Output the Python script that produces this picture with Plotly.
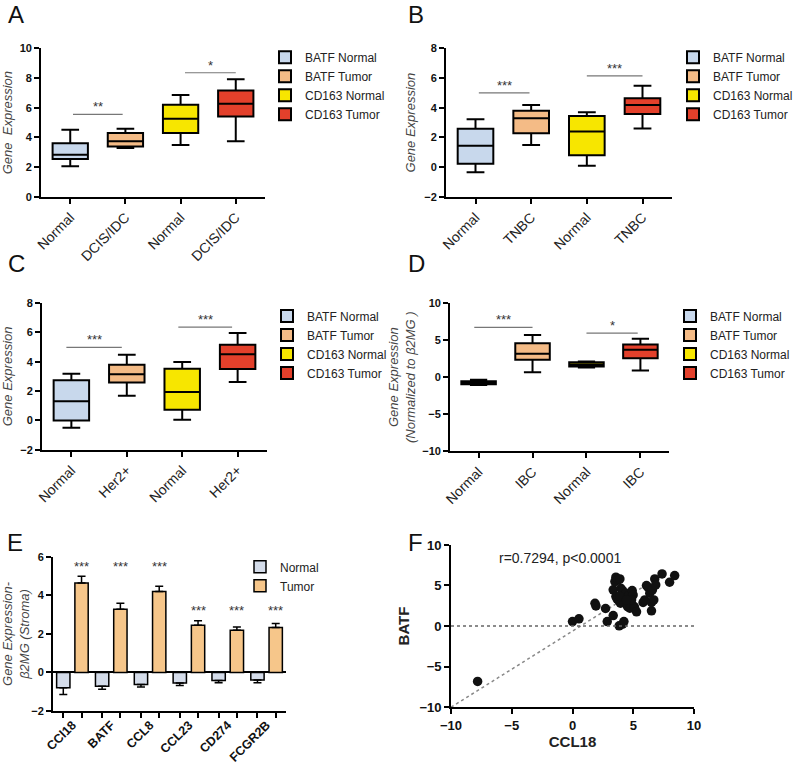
import plotly.graph_objects as go

FONT = "Liberation Sans, Arial, sans-serif"

box_names = ["BATF Normal", "BATF Tumor", "CD163 Normal", "CD163 Tumor"]
box_colors = ["#c8d8ec", "#f4bb86", "#f7e600", "#e3402b"]

# panel A - DCIS/IDC
a_labels = ["Normal", "DCIS/IDC", "Normal", "DCIS/IDC"]
a_lo = [2.07, 3.29, 3.49, 3.74]
a_q1 = [2.55, 3.40, 4.30, 5.41]
a_med = [2.84, 3.74, 5.26, 6.26]
a_q3 = [3.62, 4.30, 6.20, 7.16]
a_hi = [4.52, 4.59, 6.85, 7.92]
a_sig = [("**", 0.05, 0.95, 5.55), ("*", 2.08, 3.0, 8.35)]

# panel B - TNBC
b_labels = ["Normal", "TNBC", "Normal", "TNBC"]
b_lo = [-0.34, 1.50, 0.10, 2.60]
b_q1 = [0.24, 2.28, 0.80, 3.57]
b_med = [1.44, 3.29, 2.41, 4.19]
b_q3 = [2.58, 3.80, 3.44, 4.64]
b_hi = [3.23, 4.19, 3.70, 5.47]
b_sig = [("***", 0.06, 0.97, 5.0), ("***", 2.0, 3.0, 6.14)]

# panel C - Her2+
c_labels = ["Normal", "Her2+", "Normal", "Her2+"]
c_lo = [-0.50, 1.68, 0.05, 2.61]
c_q1 = [0.0, 2.59, 0.73, 3.50]
c_med = [1.30, 3.14, 1.93, 4.50]
c_q3 = [2.73, 3.80, 3.52, 5.16]
c_hi = [3.18, 4.48, 3.98, 5.95]
c_sig = [("***", -0.09, 0.91, 4.98), ("***", 1.93, 2.9, 6.36)]

# panel D - IBC
d_labels = ["Normal", "IBC", "Normal", "IBC"]
d_lo = [-1.05, 0.65, 1.30, 0.88]
d_q1 = [-0.95, 2.33, 1.45, 2.55]
d_med = [-0.78, 3.14, 1.70, 3.68]
d_q3 = [-0.55, 4.58, 2.00, 4.40]
d_hi = [-0.35, 5.67, 2.10, 5.17]
d_sig = [("***", -0.08, 1.0, 6.7), ("*", 2.0, 2.95, 5.94)]

# panel E - stroma bars
e_genes = ["CCl18", "BATF", "CCL8", "CCL23", "CD274", "FCGR2B"]
e_normal = [-0.79, -0.72, -0.63, -0.55, -0.42, -0.39]
e_normal_err = [0.36, 0.15, 0.12, 0.13, 0.12, 0.14]
e_tumor = [4.65, 3.28, 4.21, 2.45, 2.19, 2.33]
e_tumor_err = [0.35, 0.31, 0.27, 0.23, 0.17, 0.21]
e_star_y = [5.0, 5.0, 5.0, 2.75, 2.75, 2.75]

# panel F - CCL18 vs BATF
f_ccl18 = [-7.81, 0.0, 0.53, 1.85, 1.93, 2.72, 2.86, 3.35, 3.35, 3.49, 3.57, 3.76,
           3.90, 3.57, 3.68, 3.84, 3.95, 3.84, 4.12, 4.23, 3.98, 4.12, 4.39, 4.53,
           4.66, 4.53, 4.72, 4.91, 4.99, 5.08, 5.13, 5.27, 5.81, 5.95, 6.09, 6.22,
           6.36, 6.50, 6.50, 6.58, 6.69, 6.77, 6.85, 7.37, 7.99, 8.41, 4.86, 3.90, 4.44]
f_batf = [-6.84, 0.55, 0.88, 2.81, 2.48, 2.16, 0.55, 1.29, 4.46, 5.48, 6.02, 5.69,
          5.81, 3.64, 3.31, 3.10, 2.81, 0.02, 0.23, 0.55, 4.66, 4.37, 4.05, 3.64,
          3.31, 2.40, 2.20, 4.37, 3.84, 2.40, 2.16, 1.75, 2.90, 3.22, 4.99, 4.78,
          4.05, 1.87, 2.90, 4.46, 3.22, 5.81, 5.07, 6.43, 5.40, 6.22, 3.22, 3.64, 3.22]
f_fit_slope = 0.94
f_fit_intercept = -0.63
f_fit_x = [-10, 6]

fig = go.Figure()

axis_common = dict(showgrid=False, zeroline=False, showline=True, linecolor="black",
                   linewidth=1.8, ticks="outside", tickcolor="black", tickwidth=1.8,
                   ticklen=5, automargin=False)
ytitle_font = dict(size=13, color="#444")
ytick_font = dict(size=11, color="#111", weight="bold")

fig.update_layout(
    width=800, height=765, margin=dict(l=0, r=0, t=0, b=0),
    paper_bgcolor="white", plot_bgcolor="white",
    font=dict(family=FONT, color="#222"),
    barmode="group", bargap=0.06, bargroupgap=0.27,
    xaxis=dict(axis_common, domain=[41 / 800, 265 / 800], range=[-0.53, 3.53], anchor="y"),
    yaxis=dict(axis_common, domain=[0.7425, 0.937], range=[0, 10], dtick=2, anchor="x",
               tickfont=ytick_font,
               title=dict(text="<i>Gene  Expression</i>", font=ytitle_font, standoff=6)),
    xaxis2=dict(axis_common, domain=[446 / 800, 672 / 800], range=[-0.53, 3.53], anchor="y2"),
    yaxis2=dict(axis_common, domain=[0.7425, 0.937], range=[-2, 8], dtick=2, anchor="x2",
                tickfont=ytick_font,
                title=dict(text="<i>Gene Expression</i>", font=ytitle_font, standoff=6)),
    xaxis3=dict(axis_common, domain=[42 / 800, 267 / 800], range=[-0.53, 3.53], anchor="y3"),
    yaxis3=dict(axis_common, domain=[0.412, 0.604], range=[-2, 8], dtick=2, anchor="x3",
                tickfont=ytick_font,
                title=dict(text="<i>Gene Expression</i>", font=ytitle_font, standoff=6)),
    xaxis4=dict(axis_common, domain=[450 / 800, 669 / 800], range=[-0.53, 3.53], anchor="y4"),
    yaxis4=dict(axis_common, domain=[0.41, 0.604], range=[-10, 10], dtick=5, anchor="x4",
                tickfont=ytick_font,
                title=dict(text="<i>Gene Expression<br>(Normalized to β2MG )</i>",
                           font=ytitle_font, standoff=4)),
)


def box_panel(n, labels, lo, q1, med, q3, hi, sig):
    sfx = "" if n == 1 else str(n)
    for i in range(4):
        fig.add_trace(go.Box(
            x=[i], lowerfence=[lo[i]], q1=[q1[i]], median=[med[i]], q3=[q3[i]],
            upperfence=[hi[i]], name=box_names[i], fillcolor=box_colors[i],
            line=dict(color="black", width=2), width=0.64, whiskerwidth=0.5,
            xaxis="x" + sfx, yaxis="y" + sfx, legend="legend" + sfx,
            hoverinfo="skip"))
    for txt, x0, x1, y in sig:
        fig.add_shape(type="line", xref="x" + sfx, yref="y" + sfx, x0=x0, x1=x1,
                      y0=y, y1=y, line=dict(color="#777777", width=1.2))
        fig.add_annotation(xref="x" + sfx, yref="y" + sfx, x=(x0 + x1) / 2, y=y,
                           text=txt, showarrow=False, yanchor="bottom", yshift=-2,
                           font=dict(size=13, color="#333333"))
    fig.update_layout({"xaxis" + sfx: dict(tickmode="array", tickvals=list(range(4)),
                                           ticktext=labels, tickangle=-45,
                                           tickfont=dict(size=14, color="#222"))})


box_panel(1, a_labels, a_lo, a_q1, a_med, a_q3, a_hi, a_sig)
box_panel(2, b_labels, b_lo, b_q1, b_med, b_q3, b_hi, b_sig)
box_panel(3, c_labels, c_lo, c_q1, c_med, c_q3, c_hi, c_sig)
box_panel(4, d_labels, d_lo, d_q1, d_med, d_q3, d_hi, d_sig)

# E bars
e_x = list(range(len(e_genes)))
fig.add_trace(go.Bar(
    x=e_x, y=e_normal, name="Normal", marker=dict(color="#d4dcea", line=dict(color="black", width=1.5)),
    error_y=dict(type="data", symmetric=False, array=[0] * 6, arrayminus=e_normal_err,
                 color="black", thickness=1.5, width=4),
    xaxis="x5", yaxis="y5", legend="legend5", hoverinfo="skip"))
fig.add_trace(go.Bar(
    x=e_x, y=e_tumor, name="Tumor", marker=dict(color="#f6c68a", line=dict(color="black", width=1.5)),
    error_y=dict(type="data", symmetric=False, array=e_tumor_err, arrayminus=[0] * 6,
                 color="black", thickness=1.5, width=4),
    xaxis="x5", yaxis="y5", legend="legend5", hoverinfo="skip"))
for i, yv in enumerate(e_star_y):
    fig.add_annotation(xref="x5", yref="y5", x=i + 0.235, y=yv, text="***",
                       showarrow=False, yanchor="bottom", font=dict(size=13, color="#333"))

# F scatter
fig.add_trace(go.Scatter(
    x=f_fit_x, y=[f_fit_slope * v + f_fit_intercept for v in f_fit_x], mode="lines",
    line=dict(color="#888888", width=1.5, dash="dot"), xaxis="x6", yaxis="y6",
    showlegend=False, hoverinfo="skip"))
fig.add_trace(go.Scatter(
    x=f_ccl18, y=f_batf, mode="markers", marker=dict(color="#111111", size=9.5),
    xaxis="x6", yaxis="y6", showlegend=False))
fig.add_shape(type="line", xref="x6", yref="y6", x0=-10, x1=10, y0=0, y1=0,
              line=dict(color="#666666", width=1.5, dash="dot"))
fig.add_annotation(xref="paper", yref="paper", x=560 / 800, y=1 - 558 / 765,
                   xanchor="center", yanchor="middle",
                   text="r=0.7294, p<0.0001", showarrow=False,
                   font=dict(size=14, color="#222"))

fig.update_layout(
    xaxis5=dict(axis_common, domain=[53 / 800, 286 / 800], range=[-0.5, 5.5], anchor="y5",
                tickmode="array", tickvals=e_x, ticktext=e_genes, tickangle=-45, ticks="",
                tickfont=dict(size=12.5, color="#111", weight="bold"),
                minor=dict(tickmode="array",
                           tickvals=[i + d for i in e_x for d in (-0.235, 0.235)],
                           ticks="outside", ticklen=5, tickwidth=1.8, tickcolor="black")),
    yaxis5=dict(axis_common, domain=[0.0706, 0.272], range=[-2, 6], dtick=2, anchor="x5",
                zeroline=True, zerolinecolor="black", zerolinewidth=1.8, tickfont=ytick_font,
                title=dict(text="<i>Gene Expression-<br>β2MG (Stroma)</i>",
                           font=ytitle_font, standoff=6)),
    xaxis6=dict(axis_common, domain=[451 / 800, 694 / 800], range=[-10, 10], dtick=5,
                anchor="y6", tickfont=dict(size=13, color="#111", weight="bold"),
                title=dict(text="<b>CCL18</b>", font=dict(size=15, color="#222"), standoff=4)),
    yaxis6=dict(axis_common, domain=[0.0758, 0.2876], range=[-10, 10], dtick=5, anchor="x6",
                tickfont=dict(size=13, color="#111", weight="bold"),
                title=dict(text="<b>BATF</b>", font=dict(size=15, color="#222"), standoff=6)),
)

legend_common = dict(bgcolor="rgba(0,0,0,0)", font=dict(size=12, color="#222"),
                     xanchor="left", yanchor="top", tracegroupgap=0)
fig.update_layout(
    legend=dict(legend_common, x=265 / 800, y=0.944),
    legend2=dict(legend_common, x=673 / 800, y=0.944),
    legend3=dict(legend_common, x=267 / 800, y=0.606),
    legend4=dict(legend_common, x=670 / 800, y=0.606),
    legend5=dict(legend_common, x=240 / 800, y=0.278),
)

for letter, px, py in [("A", 16, 14), ("B", 416, 14), ("C", 16, 263),
                       ("D", 416, 263), ("E", 15, 542), ("F", 415, 542)]:
    fig.add_annotation(xref="paper", yref="paper", x=px / 800, y=1 - py / 765,
                       xanchor="center", yanchor="middle",
                       text=letter, showarrow=False, font=dict(size=24, color="#111"))

# drop the default 8px body margin so the figure fills the window
fig.write_html("out.html", config={"displayModeBar": False},
               post_script="document.body.style.margin='0px';")
